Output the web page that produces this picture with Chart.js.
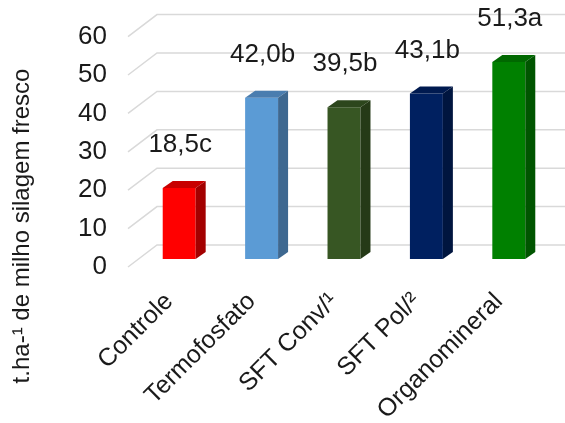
<!DOCTYPE html>
<html>
<head>
<meta charset="utf-8">
<script src="https://cdn.jsdelivr.net/npm/chart.js@4.4.1/dist/chart.umd.min.js"></script>
<style>
  html, body { margin: 0; padding: 0; background: #fff; }
  canvas { display: block; }
</style>
</head>
<body>
<canvas id="chart" width="565" height="423"></canvas>
<script>
const categories = ['Controle', 'Termofosfato', 'SFT Conv/¹', 'SFT Pol/²', 'Organomineral'];
const yieldValues = [18.5, 42.0, 39.5, 43.1, 51.3];
const letters = ['c', 'b', 'b', 'b', 'a'];
const yTicks = [0, 10, 20, 30, 40, 50, 60];
const yTitle = 't.ha-¹ de milho silagem fresco';

const frontColors = ['#FF0000', '#5B9BD5', '#375623', '#002060', '#008000'];
const topColors   = ['#C80000', '#4A7DAF', '#2C461C', '#001A50', '#006800'];
const sideColors  = ['#A30000', '#3E6890', '#253A17', '#00153F', '#005500'];

const FONT = '"Liberation Sans", Arial, sans-serif';

// depth offsets (oblique projection)
const WALL_DX = 29, WALL_DY = -22;   // back wall
const BAR_DX = 10, BAR_DY = -8;      // bar front face
const SIDE_DX = 10, SIDE_DY = -7;    // bar depth

function fmtLabel(v, i) {
    return v.toFixed(1).replace('.', ',') + letters[i];
}

const bar3d = {
    id: 'bar3d',
    beforeDatasetsDraw(chart) {
        const ctx = chart.ctx;
        const area = chart.chartArea;
        const y = chart.scales.y;
        ctx.save();
        ctx.strokeStyle = '#D9D9D9';
        ctx.lineWidth = 1.5;
        yTicks.forEach(v => {
            const py = y.getPixelForValue(v);
            ctx.beginPath();
            ctx.moveTo(area.left, py);
            ctx.lineTo(area.left + WALL_DX, py + WALL_DY);
            ctx.lineTo(chart.width, py + WALL_DY);
            ctx.stroke();
        });
        ctx.restore();
        ctx.save();
        ctx.translate(BAR_DX, BAR_DY);
    },
    afterDatasetsDraw(chart) {
        const ctx = chart.ctx;
        const meta = chart.getDatasetMeta(0);
        meta.data.forEach((bar, i) => {
            const l = bar.x - bar.width / 2, r = bar.x + bar.width / 2;
            ctx.fillStyle = topColors[i];
            ctx.beginPath();
            ctx.moveTo(l, bar.y);
            ctx.lineTo(r, bar.y);
            ctx.lineTo(r + SIDE_DX, bar.y + SIDE_DY);
            ctx.lineTo(l + SIDE_DX, bar.y + SIDE_DY);
            ctx.closePath();
            ctx.fill();
            ctx.fillStyle = sideColors[i];
            ctx.beginPath();
            ctx.moveTo(r, bar.y);
            ctx.lineTo(r + SIDE_DX, bar.y + SIDE_DY);
            ctx.lineTo(r + SIDE_DX, bar.base + SIDE_DY);
            ctx.lineTo(r, bar.base);
            ctx.closePath();
            ctx.fill();
        });
        ctx.fillStyle = '#1a1a1a';
        ctx.font = '26px ' + FONT;
        ctx.textAlign = 'center';
        ctx.textBaseline = 'middle';
        meta.data.forEach((bar, i) => {
            ctx.fillText(fmtLabel(yieldValues[i], i), bar.x + 1, bar.y - 43);
        });
        ctx.restore();

        ctx.save();
        ctx.translate(22, 226);
        ctx.rotate(-Math.PI / 2);
        ctx.fillStyle = '#1a1a1a';
        ctx.font = '24px ' + FONT;
        ctx.textAlign = 'center';
        ctx.textBaseline = 'middle';
        ctx.fillText(yTitle, 0, 0);
        ctx.restore();
    }
};

new Chart(document.getElementById('chart'), {
    type: 'bar',
    data: {
        labels: categories,
        datasets: [{
            data: yieldValues,
            backgroundColor: frontColors,
            borderWidth: 0,
            barPercentage: 0.4,
            categoryPercentage: 1,
            clip: false
        }]
    },
    options: {
        responsive: false,
        animation: false,
        layout: { padding: { top: 35, right: 25, left: 0, bottom: 0 } },
        plugins: {
            legend: { display: false },
            tooltip: { enabled: false }
        },
        scales: {
            x: {
                grid: { display: false, drawTicks: false },
                border: { display: false },
                ticks: {
                    minRotation: 45,
                    maxRotation: 45,
                    padding: 20,
                    color: '#1a1a1a',
                    font: { family: FONT, size: 25 }
                },
                afterFit(scale) { scale.height = 156; }
            },
            y: {
                min: 0,
                max: 60,
                grid: { display: false, drawTicks: false },
                border: { display: false },
                ticks: {
                    stepSize: 10,
                    padding: 21,
                    color: '#1a1a1a',
                    font: { family: FONT, size: 26 }
                },
                afterFit(scale) { scale.width = 128; }
            }
        }
    },
    plugins: [bar3d]
});
</script>
</body>
</html>
